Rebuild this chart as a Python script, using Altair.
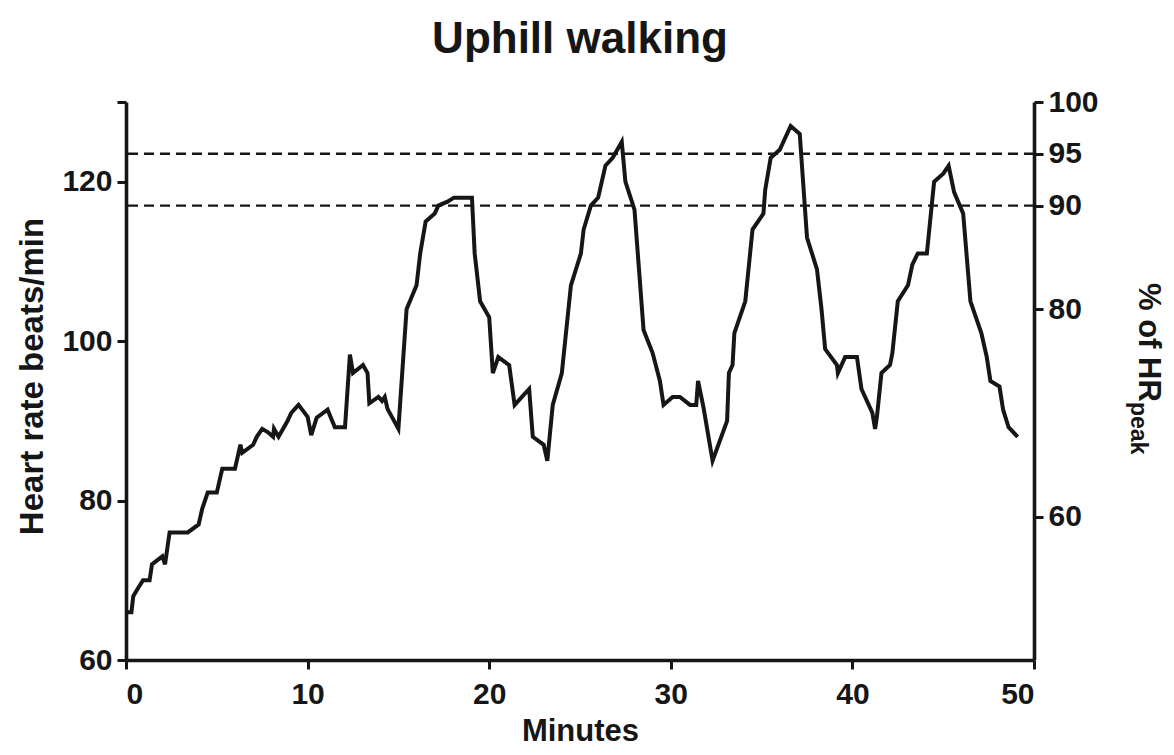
import altair as alt
import pandas as pd

# ---- data ----
minutes = [0.05, 0.3, 0.4, 0.66, 0.94, 1.3, 1.43, 2.0, 2.15, 2.4,
           3.4, 4.0, 4.2, 4.5, 5.0, 5.3, 6.0, 6.3, 6.4, 7.0,
           7.2, 7.5, 7.8, 8.1, 8.15, 8.4, 8.9, 9.1, 9.5, 10.0,
           10.2, 10.5, 11.1, 11.5, 12.06, 12.33, 12.5, 13.05, 13.3, 13.4,
           13.9, 14.1, 14.25, 14.4, 15.0, 15.45, 16.0, 16.2, 16.5, 17.0,
           17.2, 17.7, 18.06, 19.05, 19.2, 19.5, 20.0, 20.2, 20.5, 21.1,
           21.4, 22.2, 22.4, 23.0, 23.2, 23.5, 24.0, 24.5, 25.05, 25.2,
           25.6, 26.0, 26.4, 26.8, 27.3, 27.5, 28.0, 28.5, 29.0, 29.4,
           29.6, 30.1, 30.5, 31.06, 31.4, 31.5, 31.8, 32.3, 33.1, 33.2,
           33.4, 33.5, 34.1, 34.5, 35.1, 35.2, 35.5, 36.0, 36.6, 37.1,
           37.5, 38.05, 38.3, 38.5, 39.15, 39.2, 39.6, 40.25, 40.5, 41.1,
           41.25, 41.35, 41.6, 42.07, 42.2, 42.5, 43.06, 43.3, 43.6, 44.1,
           44.5, 45.0, 45.3, 45.6, 46.1, 46.5, 47.1, 47.4, 47.6, 48.1,
           48.3, 48.6, 49.1]
heart_rate = [66, 66, 68, 69, 70, 70, 72, 73, 72, 76,
              76, 77, 79, 81, 81, 84, 84, 87, 86, 87,
              88, 89, 88.6, 88, 89, 88, 90, 91, 92, 90.5,
              88.2, 90.4, 91.4, 89.2, 89.2, 98.3, 96, 97, 96, 92.2,
              93, 92.5, 93, 91.5, 89, 104, 107, 111, 115, 116,
              117, 117.5, 118, 118, 111, 105, 103, 96, 98, 97,
              92, 94, 88, 87, 85, 92, 96, 107, 111, 114,
              117, 118, 122, 123, 125, 120, 116.5, 101.4, 98.5, 95,
              92, 93, 93, 92, 92, 95, 91.7, 85, 90, 96,
              97, 101, 105, 114, 116, 119, 123, 124, 127, 126,
              113, 109, 104, 99, 97, 96, 98, 98, 94, 91,
              89, 90.5, 96, 97, 98.5, 105, 107, 109.6, 111, 111,
              120, 121, 122, 118.7, 116, 105, 101, 98, 95, 94.3,
              91.4, 89.2, 88]
hr_peak = 130
pct_lines = [90, 95]
left_ticks = [60, 80, 100, 120, 130]
right_ticks = [60, 80, 90, 95, 100]
x_ticks = [0, 10, 20, 30, 40, 50]

FONT = "Liberation Sans"
INK = "#161616"

line_df = pd.DataFrame({"Minutes": minutes, "HR": heart_rate})
rule_df = pd.DataFrame({"pct": pct_lines})

W, H = 908, 558

line = alt.Chart(line_df).mark_line(color=INK, strokeWidth=4, strokeJoin="miter").encode(
    x=alt.X("Minutes:Q",
            scale=alt.Scale(domain=[0, 50], nice=False, zero=False),
            axis=alt.Axis(values=x_ticks, title="Minutes", labelPadding=10,
                          titleX=W / 2, titleY=80, titleBaseline="alphabetic",
                          titleFontSize=31)),
    y=alt.Y("HR:Q",
            scale=alt.Scale(domain=[60, 130], nice=False, zero=False),
            axis=alt.Axis(values=left_ticks, title="Heart rate beats/min",
                          labelExpr="datum.value == 130 ? '' : datum.label",
                          labelPadding=5, titleX=-84, titleY=274, titleAngle=-90,
                          titleAlign="center", titleBaseline="alphabetic",
                          titleFontSize=33)),
)

rules = alt.Chart(rule_df).mark_rule(color=INK, strokeWidth=2.4, strokeDash=[10, 6]).encode(
    y=alt.Y("pct:Q",
            scale=alt.Scale(domain=[100 * 60 / hr_peak, 100], nice=False, zero=False),
            axis=alt.Axis(orient="right", values=right_ticks, title=None, labelPadding=5)),
)

t1 = alt.Chart(pd.DataFrame({"t": ["% of HR"]})).mark_text(
    angle=90, align="left", baseline="alphabetic", font=FONT, fontSize=31, fontWeight="bold", color=INK
).encode(x=alt.value(1013), y=alt.value(181), text="t:N")

t2 = alt.Chart(pd.DataFrame({"t": ["peak"]})).mark_text(
    angle=90, align="left", baseline="alphabetic", font=FONT, fontSize=23, fontWeight="bold", color=INK
).encode(x=alt.value(1005), y=alt.value(300), text="t:N")

chart = alt.layer(line, rules, t1, t2).resolve_scale(y="independent").properties(
    width=W, height=H,
    title=alt.TitleParams("Uphill walking", fontSize=44, fontWeight="bold", font=FONT,
                          anchor="middle", frame="group", offset=25, color=INK),
    autosize=alt.AutoSizeParams(type="none"),
    padding={"left": 118, "top": 94, "right": 132, "bottom": 87},
).configure_view(stroke=None).configure_axis(
    grid=False, domainColor=INK, domainWidth=3.6, tickColor=INK, tickWidth=3,
    tickSize=9, labelFont=FONT, labelFontSize=30, labelFontWeight="bold", labelColor=INK,
    titleFont=FONT, titleFontWeight="bold", titleColor=INK, domainCap="butt"
)

chart.save("out.html", embed_options={"renderer": "svg", "actions": False})
